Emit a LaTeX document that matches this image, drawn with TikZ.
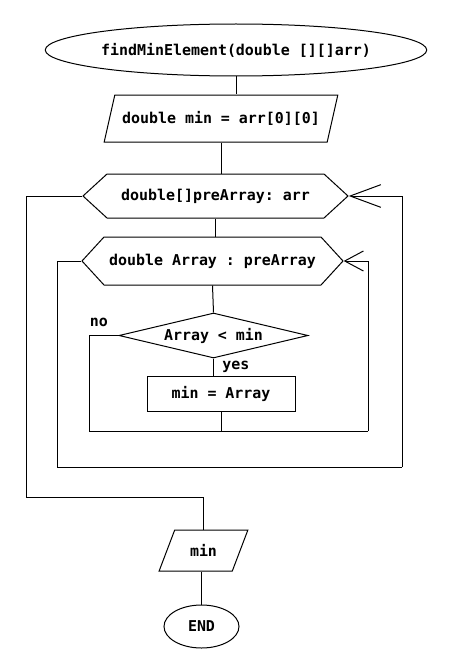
\documentclass[tikz,border=0pt]{standalone}
\usepackage{fontspec}
\setmonofont{DejaVu Sans Mono}
\usetikzlibrary{shapes.geometric,shapes.symbols,arrows.meta}

\begin{document}
\begin{tikzpicture}[x=0.75pt, y=-0.75pt, line width=0.75pt,
    every node/.style={font=\ttfamily\bfseries\fontsize{11.2}{13}\selectfont},
    terminal/.style={draw, ellipse, inner sep=0pt},
    io/.style={draw, trapezium, trapezium stretches=true, inner sep=0pt},
    foreach box/.style={draw, signal, signal to=east and west, inner sep=0pt},
    process/.style={draw, rectangle, inner sep=0pt},
    decision/.style={draw, diamond, aspect=4.2, inner sep=0pt}]

    \useasboundingbox (0,0) rectangle (460,667);

    % blocks
    \node [terminal, minimum width=222.75pt, minimum height=39pt] (start) at (236,50) {findMinElement(double [][]arr)};
    \node [io, trapezium left angle=55, trapezium right angle=125, minimum width=175.5pt, minimum height=35.25pt] (init) at (221,118.5) {double min = arr[0][0]};
    \node [foreach box, signal pointer angle=85, minimum width=198.75pt, minimum height=33pt] (outer) at (215.5,196) {double[]preArray: arr};
    \node [foreach box, signal pointer angle=95, minimum width=195.75pt, minimum height=36pt] (inner) at (212.5,261) {double Array : preArray};
    \node [decision, minimum width=141.75pt, minimum height=33.75pt] (cond) at (213.5,335.5) {Array < min};
    \node [process, minimum width=111pt, minimum height=26.25pt] (body) at (221,393.5) {min = Array};
    \node [io, trapezium left angle=59, trapezium right angle=121, minimum width=66.75pt, minimum height=30.75pt] (out) at (203.5,550.5) {min};
    \node [terminal, minimum width=56.25pt, minimum height=32.25pt] (finish) at (201.5,626.5) {END};

    % corners
    \coordinate (innerEnd) at (368,431);
    \coordinate (outerEnd) at (402,467);

    % flow
    \draw (start.south) -- (start.south |- init.north);
    \draw (init.south) -- (init.south |- outer.north);
    \draw (outer.south) -- (outer.south |- inner.north);
    \draw (inner.south) -- (cond.north);
    \draw (cond.south) -- (cond.south |- body.north)
        node [right, midway, xshift=3pt] {yes};
    \draw (body.south) -- (body.south |- innerEnd);

    % loops
    \draw (cond.west) -- ++(-29,0)
        node [above left, pos=0.2, yshift=3pt] {no}
        |- (innerEnd);
    \draw [-{Straight Barb[length=14pt, width=15pt]}] (innerEnd) |- (inner.east);
    \draw (inner.west) -- ++(-24,0) |- (outerEnd);
    \draw [-{Straight Barb[length=23pt, width=17pt]}] (outerEnd) |- (outer.east);
    \draw (outer.west) -- ++(-56,0) |- ([yshift=24pt]out.north) -- (out.north);
    \draw (finish.north |- out.south) -- (finish.north);
\end{tikzpicture}
\end{document}
